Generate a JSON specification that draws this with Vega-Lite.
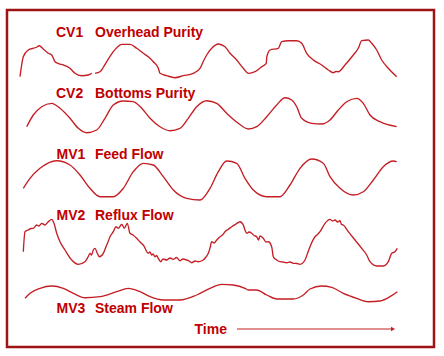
{
  "$schema": "https://vega.github.io/schema/vega-lite/v6.json",
  "width": 427,
  "height": 337,
  "autosize": "none",
  "padding": {"left": 7, "top": 10, "right": 10, "bottom": 9},
  "background": "white",
  "config": {"view": {"stroke": "#9e1414", "strokeWidth": 2.5}},
  "datasets": {
    "lines": [
      {"seg": "CV1a", "x": 20, "y": 76.7}, {"seg": "CV1a", "x": 21.5, "y": 66}, {"seg": "CV1a", "x": 23.3, "y": 56.7}, {"seg": "CV1a", "x": 28.3, "y": 50}, {"seg": "CV1a", "x": 31, "y": 48.8}, {"seg": "CV1a", "x": 33.3, "y": 48.3}, {"seg": "CV1a", "x": 36, "y": 47.5}, {"seg": "CV1a", "x": 39.3, "y": 45.7}, {"seg": "CV1a", "x": 43.3, "y": 49}, {"seg": "CV1a", "x": 48.3, "y": 53.3}, {"seg": "CV1a", "x": 51.7, "y": 55}, {"seg": "CV1a", "x": 55, "y": 61.7}, {"seg": "CV1a", "x": 59, "y": 63.8}, {"seg": "CV1a", "x": 63.3, "y": 65}, {"seg": "CV1a", "x": 70, "y": 68.3}, {"seg": "CV1a", "x": 75, "y": 73.3}, {"seg": "CV1a", "x": 81.7, "y": 75.7}, {"seg": "CV1a", "x": 88.3, "y": 75}, {"seg": "CV1a", "x": 91.7, "y": 73.3},
      {"seg": "CV1b", "x": 95, "y": 73.3}, {"seg": "CV1b", "x": 100, "y": 71.7}, {"seg": "CV1b", "x": 103.5, "y": 67}, {"seg": "CV1b", "x": 106.7, "y": 61.7}, {"seg": "CV1b", "x": 113.3, "y": 51.7}, {"seg": "CV1b", "x": 117.5, "y": 47}, {"seg": "CV1b", "x": 121.7, "y": 44.3}, {"seg": "CV1b", "x": 130, "y": 44.3}, {"seg": "CV1b", "x": 136.7, "y": 48.3}, {"seg": "CV1b", "x": 143.3, "y": 53.3}, {"seg": "CV1b", "x": 148.3, "y": 56.7}, {"seg": "CV1b", "x": 153.3, "y": 61.7}, {"seg": "CV1b", "x": 158.3, "y": 68.3}, {"seg": "CV1b", "x": 160, "y": 73.3}, {"seg": "CV1b", "x": 166.7, "y": 75.7}, {"seg": "CV1b", "x": 175, "y": 77.7}, {"seg": "CV1b", "x": 183.3, "y": 75.7}, {"seg": "CV1b", "x": 193.3, "y": 73.3}, {"seg": "CV1b", "x": 200, "y": 68.3}, {"seg": "CV1b", "x": 203.5, "y": 61}, {"seg": "CV1b", "x": 206.7, "y": 55}, {"seg": "CV1b", "x": 211.7, "y": 48.3}, {"seg": "CV1b", "x": 218.3, "y": 44}, {"seg": "CV1b", "x": 225, "y": 46.7}, {"seg": "CV1b", "x": 230, "y": 53.3}, {"seg": "CV1b", "x": 236.7, "y": 60}, {"seg": "CV1b", "x": 243.3, "y": 68.3}, {"seg": "CV1b", "x": 248.3, "y": 73.3}, {"seg": "CV1b", "x": 255, "y": 71.7}, {"seg": "CV1b", "x": 261.7, "y": 66.7}, {"seg": "CV1b", "x": 266.2, "y": 63.3}, {"seg": "CV1b", "x": 266.8, "y": 57}, {"seg": "CV1b", "x": 268, "y": 53}, {"seg": "CV1b", "x": 270, "y": 50}, {"seg": "CV1b", "x": 278.3, "y": 48.3}, {"seg": "CV1b", "x": 281.7, "y": 41.7}, {"seg": "CV1b", "x": 288.3, "y": 40.7}, {"seg": "CV1b", "x": 296.7, "y": 40.7}, {"seg": "CV1b", "x": 301.7, "y": 43.3}, {"seg": "CV1b", "x": 306.7, "y": 53.3}, {"seg": "CV1b", "x": 313.3, "y": 60}, {"seg": "CV1b", "x": 321.7, "y": 65}, {"seg": "CV1b", "x": 328.3, "y": 70}, {"seg": "CV1b", "x": 333.3, "y": 72.7}, {"seg": "CV1b", "x": 336, "y": 71.5}, {"seg": "CV1b", "x": 338.3, "y": 71.7}, {"seg": "CV1b", "x": 345, "y": 65}, {"seg": "CV1b", "x": 353.3, "y": 55}, {"seg": "CV1b", "x": 358.3, "y": 48.3}, {"seg": "CV1b", "x": 361.7, "y": 40.7}, {"seg": "CV1b", "x": 368.3, "y": 40}, {"seg": "CV1b", "x": 371.7, "y": 43.3}, {"seg": "CV1b", "x": 376.7, "y": 50}, {"seg": "CV1b", "x": 381.7, "y": 60}, {"seg": "CV1b", "x": 388.3, "y": 68.3}, {"seg": "CV1b", "x": 396.7, "y": 76.7},

      {"seg": "CV2", "x": 26.7, "y": 126.7}, {"seg": "CV2", "x": 33.3, "y": 115}, {"seg": "CV2", "x": 41.7, "y": 106.7}, {"seg": "CV2", "x": 51.7, "y": 103.3}, {"seg": "CV2", "x": 60, "y": 108.3}, {"seg": "CV2", "x": 70, "y": 118.3}, {"seg": "CV2", "x": 78.3, "y": 128.3}, {"seg": "CV2", "x": 86.7, "y": 132.7}, {"seg": "CV2", "x": 96.7, "y": 130}, {"seg": "CV2", "x": 105, "y": 118.3}, {"seg": "CV2", "x": 113.3, "y": 105}, {"seg": "CV2", "x": 123.3, "y": 101}, {"seg": "CV2", "x": 133.3, "y": 101.7}, {"seg": "CV2", "x": 141.7, "y": 108.3}, {"seg": "CV2", "x": 150, "y": 118.3}, {"seg": "CV2", "x": 160, "y": 126.7}, {"seg": "CV2", "x": 170, "y": 130.7}, {"seg": "CV2", "x": 180, "y": 128.3}, {"seg": "CV2", "x": 188.3, "y": 118.3}, {"seg": "CV2", "x": 196.7, "y": 106.7}, {"seg": "CV2", "x": 206.7, "y": 100.7}, {"seg": "CV2", "x": 216.7, "y": 103.3}, {"seg": "CV2", "x": 226.7, "y": 113.3}, {"seg": "CV2", "x": 238.3, "y": 123.3}, {"seg": "CV2", "x": 248.3, "y": 129}, {"seg": "CV2", "x": 256.7, "y": 126.7}, {"seg": "CV2", "x": 266.7, "y": 116.7}, {"seg": "CV2", "x": 276.7, "y": 105}, {"seg": "CV2", "x": 285, "y": 97.7}, {"seg": "CV2", "x": 291.7, "y": 100}, {"seg": "CV2", "x": 296.7, "y": 106.7}, {"seg": "CV2", "x": 301.7, "y": 118.3}, {"seg": "CV2", "x": 311.7, "y": 123.3}, {"seg": "CV2", "x": 321.7, "y": 124}, {"seg": "CV2", "x": 330, "y": 120}, {"seg": "CV2", "x": 338.3, "y": 110}, {"seg": "CV2", "x": 346.7, "y": 101.7}, {"seg": "CV2", "x": 356.7, "y": 98.3}, {"seg": "CV2", "x": 363.3, "y": 103.3}, {"seg": "CV2", "x": 370, "y": 115}, {"seg": "CV2", "x": 380, "y": 121.7}, {"seg": "CV2", "x": 396.7, "y": 126.7},

      {"seg": "MV1", "x": 23.3, "y": 188.3}, {"seg": "MV1", "x": 30, "y": 178.3}, {"seg": "MV1", "x": 40, "y": 168.3}, {"seg": "MV1", "x": 56.7, "y": 160.7}, {"seg": "MV1", "x": 70, "y": 165}, {"seg": "MV1", "x": 80, "y": 175}, {"seg": "MV1", "x": 90, "y": 188.3}, {"seg": "MV1", "x": 100, "y": 196.7}, {"seg": "MV1", "x": 113.3, "y": 196.7}, {"seg": "MV1", "x": 123.3, "y": 188.3}, {"seg": "MV1", "x": 133.3, "y": 171.7}, {"seg": "MV1", "x": 143.3, "y": 163.3}, {"seg": "MV1", "x": 153.3, "y": 165}, {"seg": "MV1", "x": 163.3, "y": 176.7}, {"seg": "MV1", "x": 173.3, "y": 190}, {"seg": "MV1", "x": 186.7, "y": 198.3}, {"seg": "MV1", "x": 200, "y": 200}, {"seg": "MV1", "x": 210, "y": 188.3}, {"seg": "MV1", "x": 218.3, "y": 171.7}, {"seg": "MV1", "x": 226.7, "y": 161}, {"seg": "MV1", "x": 236.7, "y": 163.3}, {"seg": "MV1", "x": 245, "y": 178.3}, {"seg": "MV1", "x": 253.3, "y": 190}, {"seg": "MV1", "x": 266.7, "y": 196.7}, {"seg": "MV1", "x": 280, "y": 196.7}, {"seg": "MV1", "x": 290, "y": 185}, {"seg": "MV1", "x": 300, "y": 168.3}, {"seg": "MV1", "x": 311.7, "y": 159}, {"seg": "MV1", "x": 323.3, "y": 163.3}, {"seg": "MV1", "x": 330, "y": 176.7}, {"seg": "MV1", "x": 340, "y": 188.3}, {"seg": "MV1", "x": 353.3, "y": 195}, {"seg": "MV1", "x": 363.3, "y": 191.7}, {"seg": "MV1", "x": 373.3, "y": 180}, {"seg": "MV1", "x": 383.3, "y": 166.7}, {"seg": "MV1", "x": 393.3, "y": 161}, {"seg": "MV1", "x": 396.7, "y": 161.7},

      {"seg": "MV2", "x": 23.3, "y": 251.7}, {"seg": "MV2", "x": 25, "y": 231.7}, {"seg": "MV2", "x": 28.3, "y": 230}, {"seg": "MV2", "x": 31, "y": 228.5}, {"seg": "MV2", "x": 33.3, "y": 228.3}, {"seg": "MV2", "x": 36.7, "y": 225}, {"seg": "MV2", "x": 39, "y": 226}, {"seg": "MV2", "x": 41.7, "y": 223.3}, {"seg": "MV2", "x": 45, "y": 225}, {"seg": "MV2", "x": 48.3, "y": 221.7}, {"seg": "MV2", "x": 51.7, "y": 219.3}, {"seg": "MV2", "x": 54, "y": 223.3}, {"seg": "MV2", "x": 56.7, "y": 233.3}, {"seg": "MV2", "x": 60, "y": 241.7}, {"seg": "MV2", "x": 65, "y": 250}, {"seg": "MV2", "x": 71.7, "y": 260}, {"seg": "MV2", "x": 78.3, "y": 264.3}, {"seg": "MV2", "x": 85, "y": 261.7}, {"seg": "MV2", "x": 88, "y": 257}, {"seg": "MV2", "x": 90, "y": 253.3}, {"seg": "MV2", "x": 91.5, "y": 255}, {"seg": "MV2", "x": 93.3, "y": 250}, {"seg": "MV2", "x": 95, "y": 248.3}, {"seg": "MV2", "x": 97.3, "y": 253.3}, {"seg": "MV2", "x": 99.3, "y": 256.7}, {"seg": "MV2", "x": 103.3, "y": 253.3}, {"seg": "MV2", "x": 106.7, "y": 245}, {"seg": "MV2", "x": 108, "y": 242}, {"seg": "MV2", "x": 110, "y": 236.7}, {"seg": "MV2", "x": 113.3, "y": 231.7}, {"seg": "MV2", "x": 116, "y": 226.7}, {"seg": "MV2", "x": 118.3, "y": 228.3}, {"seg": "MV2", "x": 121.7, "y": 224.3}, {"seg": "MV2", "x": 124.3, "y": 228.3}, {"seg": "MV2", "x": 127.3, "y": 223.3}, {"seg": "MV2", "x": 130, "y": 233.3}, {"seg": "MV2", "x": 133, "y": 235}, {"seg": "MV2", "x": 136.7, "y": 238.3}, {"seg": "MV2", "x": 140, "y": 242}, {"seg": "MV2", "x": 143.3, "y": 245}, {"seg": "MV2", "x": 148.3, "y": 253.3}, {"seg": "MV2", "x": 150, "y": 252}, {"seg": "MV2", "x": 151.7, "y": 255}, {"seg": "MV2", "x": 153, "y": 254}, {"seg": "MV2", "x": 155, "y": 256.7}, {"seg": "MV2", "x": 156.5, "y": 255.5}, {"seg": "MV2", "x": 158.3, "y": 258.3}, {"seg": "MV2", "x": 160.7, "y": 261.7}, {"seg": "MV2", "x": 163, "y": 259}, {"seg": "MV2", "x": 166.7, "y": 260}, {"seg": "MV2", "x": 170, "y": 258}, {"seg": "MV2", "x": 173.3, "y": 259.3}, {"seg": "MV2", "x": 176.5, "y": 257.5}, {"seg": "MV2", "x": 180, "y": 260.7}, {"seg": "MV2", "x": 183, "y": 259}, {"seg": "MV2", "x": 186.7, "y": 260}, {"seg": "MV2", "x": 189, "y": 261}, {"seg": "MV2", "x": 191.7, "y": 262.7}, {"seg": "MV2", "x": 195, "y": 261}, {"seg": "MV2", "x": 198.3, "y": 261.7}, {"seg": "MV2", "x": 203.3, "y": 260}, {"seg": "MV2", "x": 206, "y": 257}, {"seg": "MV2", "x": 208.3, "y": 253.3}, {"seg": "MV2", "x": 210, "y": 248}, {"seg": "MV2", "x": 211.7, "y": 241.7}, {"seg": "MV2", "x": 214, "y": 243}, {"seg": "MV2", "x": 216.7, "y": 240}, {"seg": "MV2", "x": 220, "y": 236.7}, {"seg": "MV2", "x": 222.5, "y": 235}, {"seg": "MV2", "x": 225, "y": 231.7}, {"seg": "MV2", "x": 228, "y": 229.5}, {"seg": "MV2", "x": 231.7, "y": 226.7}, {"seg": "MV2", "x": 236, "y": 224}, {"seg": "MV2", "x": 240, "y": 221.7}, {"seg": "MV2", "x": 243.3, "y": 225}, {"seg": "MV2", "x": 245, "y": 230}, {"seg": "MV2", "x": 246.7, "y": 233.3}, {"seg": "MV2", "x": 249, "y": 232}, {"seg": "MV2", "x": 251.7, "y": 233.3}, {"seg": "MV2", "x": 254, "y": 235.5}, {"seg": "MV2", "x": 256.7, "y": 236.7}, {"seg": "MV2", "x": 258.5, "y": 240}, {"seg": "MV2", "x": 260, "y": 236}, {"seg": "MV2", "x": 263.3, "y": 238.3}, {"seg": "MV2", "x": 266, "y": 242}, {"seg": "MV2", "x": 268.3, "y": 241.7}, {"seg": "MV2", "x": 271.7, "y": 246.7}, {"seg": "MV2", "x": 273.3, "y": 256.7}, {"seg": "MV2", "x": 276, "y": 259.5}, {"seg": "MV2", "x": 280, "y": 261.7}, {"seg": "MV2", "x": 283, "y": 262}, {"seg": "MV2", "x": 286.7, "y": 262.7}, {"seg": "MV2", "x": 290, "y": 262}, {"seg": "MV2", "x": 293.3, "y": 263.3}, {"seg": "MV2", "x": 297, "y": 263.5}, {"seg": "MV2", "x": 300, "y": 264.3}, {"seg": "MV2", "x": 305, "y": 260}, {"seg": "MV2", "x": 308, "y": 252}, {"seg": "MV2", "x": 310, "y": 246.7}, {"seg": "MV2", "x": 315, "y": 236.7}, {"seg": "MV2", "x": 317, "y": 235}, {"seg": "MV2", "x": 320, "y": 231.7}, {"seg": "MV2", "x": 325, "y": 223.3}, {"seg": "MV2", "x": 330, "y": 219.3}, {"seg": "MV2", "x": 332.5, "y": 221}, {"seg": "MV2", "x": 335, "y": 220}, {"seg": "MV2", "x": 337.5, "y": 222}, {"seg": "MV2", "x": 340, "y": 220.7}, {"seg": "MV2", "x": 341.5, "y": 224.5}, {"seg": "MV2", "x": 343.3, "y": 225}, {"seg": "MV2", "x": 348.3, "y": 231.7}, {"seg": "MV2", "x": 355, "y": 240}, {"seg": "MV2", "x": 361.7, "y": 248.3}, {"seg": "MV2", "x": 366.7, "y": 255}, {"seg": "MV2", "x": 370, "y": 261.7}, {"seg": "MV2", "x": 376.7, "y": 266}, {"seg": "MV2", "x": 383.3, "y": 266}, {"seg": "MV2", "x": 388.3, "y": 261.7}, {"seg": "MV2", "x": 391.7, "y": 253.3}, {"seg": "MV2", "x": 395, "y": 251.7}, {"seg": "MV2", "x": 397.3, "y": 248.3},

      {"seg": "MV3", "x": 25, "y": 298.3}, {"seg": "MV3", "x": 30, "y": 293.3}, {"seg": "MV3", "x": 40, "y": 288.3}, {"seg": "MV3", "x": 51.7, "y": 286}, {"seg": "MV3", "x": 63.3, "y": 288.3}, {"seg": "MV3", "x": 73.3, "y": 293.3}, {"seg": "MV3", "x": 85, "y": 297.7}, {"seg": "MV3", "x": 100, "y": 296.7}, {"seg": "MV3", "x": 116.7, "y": 291.7}, {"seg": "MV3", "x": 128.3, "y": 288.3}, {"seg": "MV3", "x": 140, "y": 291.7}, {"seg": "MV3", "x": 150, "y": 296.7}, {"seg": "MV3", "x": 163.3, "y": 300}, {"seg": "MV3", "x": 180, "y": 300}, {"seg": "MV3", "x": 196.7, "y": 295}, {"seg": "MV3", "x": 210, "y": 288.3}, {"seg": "MV3", "x": 221.7, "y": 284.3}, {"seg": "MV3", "x": 233.3, "y": 285}, {"seg": "MV3", "x": 245, "y": 288.3}, {"seg": "MV3", "x": 248.3, "y": 290}, {"seg": "MV3", "x": 256.7, "y": 290}, {"seg": "MV3", "x": 266.7, "y": 295}, {"seg": "MV3", "x": 276.7, "y": 299}, {"seg": "MV3", "x": 293.3, "y": 299}, {"seg": "MV3", "x": 303.3, "y": 295}, {"seg": "MV3", "x": 310, "y": 289}, {"seg": "MV3", "x": 321.7, "y": 286}, {"seg": "MV3", "x": 331.7, "y": 287.3}, {"seg": "MV3", "x": 343.3, "y": 293.3}, {"seg": "MV3", "x": 356.7, "y": 298.3}, {"seg": "MV3", "x": 368.3, "y": 301.7}, {"seg": "MV3", "x": 380, "y": 301}, {"seg": "MV3", "x": 390, "y": 296.7}, {"seg": "MV3", "x": 397.3, "y": 291.7}
    ],
    "labels": [
      {"text": "CV1", "x": 56, "y": 37},
      {"text": "Overhead Purity", "x": 95, "y": 37},
      {"text": "CV2", "x": 56, "y": 97.5},
      {"text": "Bottoms Purity", "x": 95, "y": 97.5},
      {"text": "MV1", "x": 56.5, "y": 158.5},
      {"text": "Feed Flow", "x": 95, "y": 158.5},
      {"text": "MV2", "x": 56.5, "y": 219.5},
      {"text": "Reflux Flow", "x": 95, "y": 219.5},
      {"text": "MV3", "x": 56.5, "y": 313},
      {"text": "Steam Flow", "x": 95, "y": 313},
      {"text": "Time", "x": 194.5, "y": 333.5}
    ],
    "arrow": [{"x": 237, "x2": 393, "y": 329}]
  },
  "layer": [
    {
      "data": {"name": "lines"},
      "mark": {"type": "line", "color": "#c41e24", "strokeWidth": 1.35, "interpolate": "monotone"},
      "encoding": {
        "x": {"field": "x", "type": "quantitative", "scale": {"domain": [7, 434], "nice": false, "zero": false}, "axis": null},
        "y": {"field": "y", "type": "quantitative", "scale": {"domain": [10, 347], "nice": false, "zero": false, "reverse": true}, "axis": null},
        "detail": {"field": "seg"}
      }
    },
    {
      "data": {"name": "labels"},
      "mark": {"type": "text", "align": "left", "baseline": "alphabetic", "font": "Liberation Sans", "fontWeight": "bold", "fontSize": 14, "color": "#c00000"},
      "encoding": {
        "x": {"field": "x", "type": "quantitative"},
        "y": {"field": "y", "type": "quantitative"},
        "text": {"field": "text"}
      }
    },
    {
      "data": {"name": "arrow"},
      "mark": {"type": "rule", "color": "#c41e24", "strokeWidth": 1.2},
      "encoding": {
        "x": {"field": "x", "type": "quantitative"},
        "x2": {"field": "x2"},
        "y": {"field": "y", "type": "quantitative"}
      }
    },
    {
      "data": {"name": "arrow"},
      "mark": {"type": "point", "shape": "triangle-right", "filled": true, "size": 22, "color": "#c41e24", "opacity": 1},
      "encoding": {
        "x": {"field": "x2", "type": "quantitative"},
        "y": {"field": "y", "type": "quantitative"}
      }
    }
  ]
}
